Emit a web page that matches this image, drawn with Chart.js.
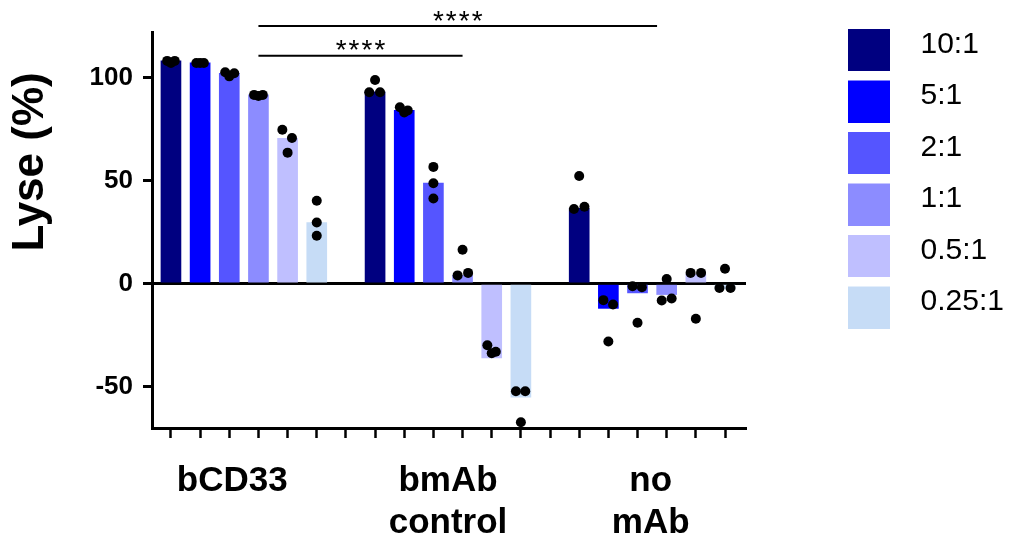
<!DOCTYPE html>
<html>
<head>
<meta charset="utf-8">
<script src="https://cdn.jsdelivr.net/npm/chart.js@4.4.0/dist/chart.umd.min.js"></script>
<style>
  html, body { margin: 0; padding: 0; background: #fff; }
  #wrap { width: 1009px; height: 535px; position: relative; }
</style>
</head>
<body>
<div id="wrap"><canvas id="lyseChart"></canvas></div>
<script>
const ratios = ['10:1', '5:1', '2:1', '1:1', '0.5:1', '0.25:1'];
const groupLabels = [['bCD33'], ['bmAb', 'control'], ['no', 'mAb']];
const yTickValues = [-50, 0, 50, 100];
const yTitle = 'Lyse (%)';

// bar height per ratio, one value per group (bCD33, bmAb control, no mAb)
const barValues = [
  [108, 93, 36.5],
  [107, 84, -12],
  [102, 48.7, -4.5],
  [91.5, 4, -5.3],
  [70.5, -36, 4.5],
  [29.6, -55, -2.5]
];

// the three replicates behind every bar
const dotValues = [
  [[108, 107, 108], [98.7, 92.8, 92.8], [52.2, 36.2, 37.3]],
  [[107, 107, 107], [85.5, 83, 84], [-8, -10.1, -28.1]],
  [[102.5, 100.5, 102], [56.6, 48.7, 41.3], [-1.3, -1.8, -19]],
  [[91.5, 91, 91.5], [16.4, 4, 5.2], [2.2, -8.2, -7.2]],
  [[74.6, 70.6, 63.5], [-29.9, -33.8, -33], [5.2, 5.2, -17]],
  [[40.2, 29.6, 23.2], [-52.2, -52.2, -67.2], [7.2, -2.1, -2.1]]
];

// sideways spread of those replicate dots (fraction of a bar slot)
const dotJitter = [
  [[-0.13, 0, 0.13], [0, -0.2, 0.17], [0, -0.18, 0.18]],
  [[-0.13, 0, 0.13], [-0.15, 0, 0.12], [-0.17, 0.16, 0]],
  [[-0.14, 0, 0.17], [0, 0, 0], [-0.17, 0.15, 0]],
  [[-0.15, 0, 0.15], [0, -0.17, 0.19], [0, -0.17, 0.17]],
  [[-0.18, 0.15, 0], [-0.15, 0, 0.14], [-0.18, 0.18, 0]],
  [[0, 0, 0], [-0.17, 0.15, 0], [0, -0.19, 0.19]]
];

// significance bars: from slot, to slot, height (y units)
const sigFrom = [3, 3];
const sigTo = [10, 16.67];
const sigLevel = [110.5, 124.9];
const sigText = ['****', '****'];

const barColors = ['#000080', '#0000ff', '#5555ff', '#8c8cff', '#bfbfff', '#c6dcf6'];
const groupStride = 7;      // 6 bars + one empty slot between groups
const groupLabelPos = [2.1, 9.5, 16.45];
const FONT = "'Liberation Sans', Arial, sans-serif";

const slotOf = (g, r) => g * groupStride + r;

function swatch(color) {
  const c = document.createElement('canvas');
  c.width = 42;
  c.height = 53;
  const g = c.getContext('2d');
  g.fillStyle = color;
  g.fillRect(0, 11, 42, 42);
  return c;
}
const swatches = barColors.map(swatch);

const barSets = ratios.map((r, i) => ({
  type: 'bar',
  label: r,
  data: barValues[i].map((v, g) => ({ x: slotOf(g, i), y: v })),
  backgroundColor: barColors[i],
  barThickness: 20,
  grouped: false,
  xAxisID: 'x',
  yAxisID: 'y',
  order: 1
}));

const dots = [];
dotValues.forEach((byGroup, r) => {
  byGroup.forEach((vals, g) => {
    vals.forEach((v, k) => dots.push({ x: slotOf(g, r) + dotJitter[r][g][k], y: v }));
  });
});

const annotate = {
  id: 'annotate',
  afterDraw(chart) {
    const { ctx, scales: { x, y } } = chart;
    ctx.save();
    ctx.strokeStyle = '#000';
    ctx.fillStyle = '#000';
    ctx.lineWidth = 2;
    ctx.font = '28px ' + FONT;
    ctx.textAlign = 'center';
    ctx.textBaseline = 'alphabetic';
    ctx.letterSpacing = '2px';
    sigFrom.forEach((f, i) => {
      const x0 = x.getPixelForValue(f);
      const x1 = x.getPixelForValue(sigTo[i]);
      const yy = y.getPixelForValue(sigLevel[i]);
      ctx.beginPath();
      ctx.moveTo(x0, yy);
      ctx.lineTo(x1, yy);
      ctx.stroke();
      ctx.fillText(sigText[i], (x0 + x1) / 2 + 1, yy + 3.5);
    });
    ctx.letterSpacing = '0px';
    ctx.font = 'bold 44px ' + FONT;
    ctx.translate(43, y.getPixelForValue(59));
    ctx.rotate(-Math.PI / 2);
    ctx.fillText(yTitle, 0, 0);
    ctx.restore();
  }
};

const hidden = { grid: { display: false }, border: { display: false }, ticks: { display: false } };

new Chart(document.getElementById('lyseChart'), {
  type: 'bar',
  data: {
    datasets: [
      {
        type: 'scatter',
        label: 'replicates',
        data: dots,
        pointRadius: 5,
        pointHoverRadius: 5,
        backgroundColor: '#000',
        borderWidth: 0,
        xAxisID: 'x',
        yAxisID: 'y',
        order: 0
      },
      ...barSets
    ]
  },
  options: {
    responsive: true,
    maintainAspectRatio: false,
    animation: false,
    layout: { padding: { top: 8, left: 0, right: 0, bottom: 0 } },
    plugins: {
      tooltip: { enabled: false },
      legend: {
        position: 'right',
        align: 'start',
        maxWidth: 198,
        onClick: () => {},
        labels: {
          usePointStyle: true,
          pointStyleWidth: 73,
          padding: 21.5,
          color: '#222',
          font: { family: FONT, size: 30 },
          generateLabels: () => ratios.map((r, i) => ({
            text: r,
            fillStyle: barColors[i],
            strokeStyle: barColors[i],
            lineWidth: 0,
            pointStyle: swatches[i],
            hidden: false,
            datasetIndex: i + 1
          }))
        }
      }
    },
    scales: {
      x: {
        type: 'linear',
        position: 'bottom',
        min: -0.65,
        max: 19.72,
        offset: false,
        weight: 0,
        afterBuildTicks: s => { s.ticks = Array.from({ length: 20 }, (_, i) => ({ value: i })); },
        afterFit: s => { s.height = 12; },
        border: { color: '#000', width: 3 },
        grid: { offset: false, drawOnChartArea: false, tickColor: '#000', tickWidth: 2.5, tickLength: 10 },
        ticks: { display: false }
      },
      xLabels: {
        type: 'linear',
        axis: 'x',
        position: 'bottom',
        min: -0.65,
        max: 19.72,
        offset: false,
        weight: 1,
        afterBuildTicks: s => { s.ticks = groupLabelPos.map(v => ({ value: v })); },
        afterFit: s => { s.height = 95; },
        grid: { display: false, offset: false },
        border: { display: false },
        ticks: {
          autoSkip: false,
          maxRotation: 0,
          padding: 12,
          color: '#000',
          font: { family: FONT, size: 35, weight: 'bold', lineHeight: 1.2 },
          callback: (v, i) => groupLabels[i]
        }
      },
      xTop: {
        type: 'linear',
        axis: 'x',
        position: 'top',
        offset: false,
        ...hidden,
        afterFit: s => { s.height = 24; }
      },
      y: {
        min: -70,
        max: 122,
        position: 'left',
        afterBuildTicks: s => { s.ticks = yTickValues.map(v => ({ value: v })); },
        afterFit: s => { s.width = 152; },
        border: { color: '#000', width: 3 },
        grid: {
          drawOnChartArea: true,
          color: c => (c.tick && c.tick.value === 0 ? '#000' : 'rgba(0,0,0,0)'),
          lineWidth: 3,
          tickColor: '#000',
          tickWidth: 3,
          tickLength: 9
        },
        ticks: { color: '#000', padding: 10, font: { family: FONT, size: 26, weight: 'bold' } }
      },
      yRight: {
        type: 'linear',
        axis: 'y',
        position: 'right',
        ...hidden,
        afterFit: s => { s.width = 65; }
      }
    }
  },
  plugins: [annotate]
});
</script>
</body>
</html>
